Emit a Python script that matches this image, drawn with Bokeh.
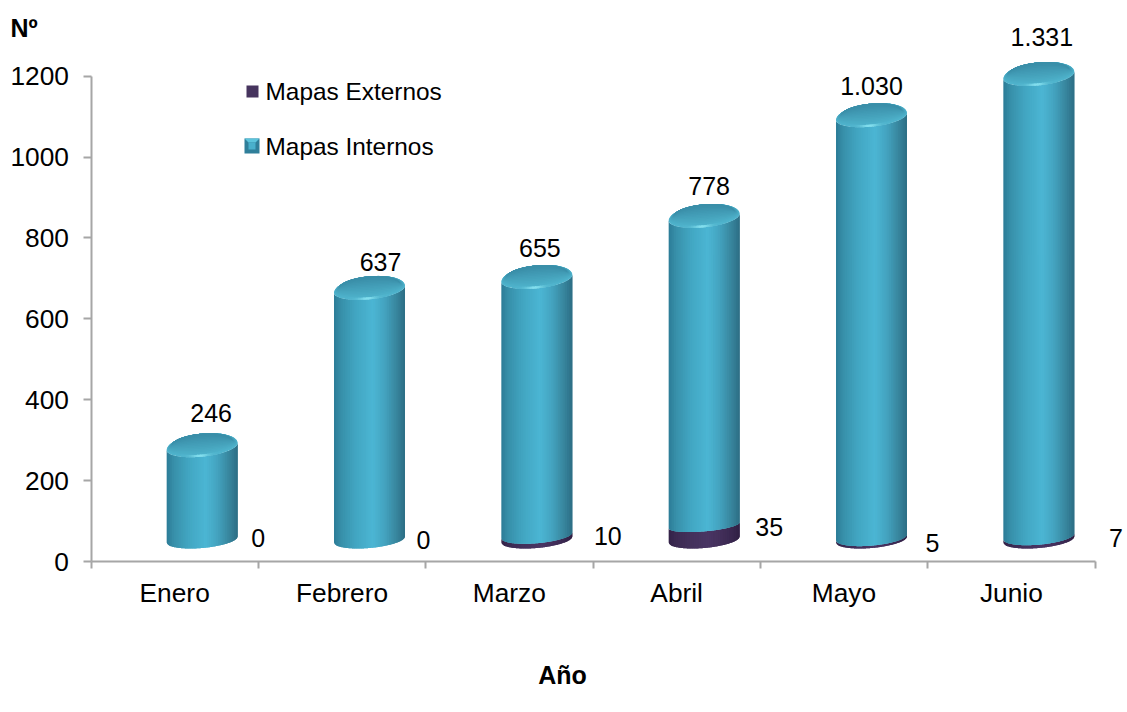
import numpy as np
from bokeh.embed import file_html
from bokeh.resources import INLINE
from bokeh.plotting import figure
from bokeh.models import Range1d, FixedTicker, ColumnDataSource
from bokeh.core.properties import value

# ---- data ----
months = ["Enero", "Febrero", "Marzo", "Abril", "Mayo", "Junio"]
mapas_externos = [0, 0, 10, 35, 5, 7]
# value labels printed on the chart
internos_labels = ["246", "637", "655", "778", "1.030", "1.331"]
externos_labels = ["0", "0", "10", "35", "5", "7"]
# height of the cylinder tops as read against the value axis
internos_top = [284, 673, 700, 851, 1100, 1202]
y_ticks = [0, 200, 400, 600, 800, 1000, 1200]

# ---- layout ----
W, H = 1127, 712
X0, XN = 90.5, 1094.5    # page pixels of the category axis ends
Y0, YT = 561.0, 75.7     # page pixels of value 0 and value 1200
UX = 6.0 / (XN - X0)     # category units per pixel
UY = 1200.0 / (Y0 - YT)  # value units per pixel
BASE = 22 * UY           # perspective floor of the 3-D plot
CYL_DX = 27.5 * UX       # perspective shift of the cylinders
A = 35.5                 # cylinder half-width (px)
TILT_TOP, TILT_BOT = 3.5, 3.0
B_FRONT, B_BACK = 10.0, 13.0
FONT = "Liberation Sans"


def page_x(px):
    return (px - X0) * UX


def page_y(py):
    return (Y0 - py) * UY


def arc(u, b):
    return b * np.sqrt(np.clip(1 - u ** 2, 0, 1))


STOPS = [0, .10, .30, .55, .72, .88, 1]
INT_RGB = ([0x2c, 0x38, 0x42, 0x4c, 0x44, 0x38, 0x2d],
           [0x7c, 0x90, 0xa6, 0xb6, 0xa3, 0x86, 0x6e],
           [0x97, 0xaa, 0xc2, 0xd4, 0xbf, 0x9e, 0x85])
EXT_RGB = ([0x33, 0x3c, 0x44, 0x4a, 0x44, 0x3a, 0x30],
           [0x22, 0x2a, 0x31, 0x36, 0x30, 0x28, 0x20],
           [0x48, 0x52, 0x5c, 0x64, 0x5c, 0x50, 0x44])


def shade(t, rgb):
    return "#%02x%02x%02x" % tuple(int(np.interp(t, STOPS, c)) for c in rgb)


def mix(a, b, w):
    return "#%02x%02x%02x" % tuple(int(x + (y - x) * w) for x, y in zip(a, b))


def strip_u(k, n):
    # each strip runs under its right-hand neighbour, so no seams show
    edges = np.linspace(-1, 1, n + 1)
    return np.linspace(edges[k], edges[min(k + 2, n)], 7)


p = figure(width=W, height=H, output_backend="svg", toolbar_location=None,
           x_range=Range1d(page_x(0), page_x(W)), y_range=Range1d(page_y(H), page_y(0)),
           min_border=0, min_border_left=0, min_border_right=0,
           min_border_top=0, min_border_bottom=0)
p.grid.visible = False
p.outline_line_color = None

ex, ey, ec = [], [], []
sx, sy, sc = [], [], []
cap_x, cap_y, cap_c = [], [], []
rim_x, rim_y, rim_c = [], [], []
N = 40
for i, (ext, top) in enumerate(zip(mapas_externos, internos_top)):
    cx = i + .5 + CYL_DX
    mid = BASE + ext
    b_mid = 8.5 - 0.07 * ext
    for k in range(N):
        u = strip_u(k, N)
        x = cx + A * u * UX
        t = (k + .5) / N
        if ext > 0:
            lo = BASE - (-TILT_BOT * u + arc(u, 8.5)) * UY
            hi = mid - (-TILT_BOT * u + arc(u, b_mid)) * UY
            ex.append(list(x) + list(x[::-1]))
            ey.append(list(lo) + list(hi[::-1]))
            ec.append(shade(t, EXT_RGB))
        lo = mid - (-TILT_BOT * u + arc(u, b_mid)) * UY
        hi = top - (-TILT_TOP * u + arc(u, B_FRONT)) * UY
        sx.append(list(x) + list(x[::-1]))
        sy.append(list(lo) + list(hi[::-1]))
        sc.append(shade(t, INT_RGB))
    # top cap: nested ellipses sharing the back edge, light in front to dark behind
    th = np.linspace(0, 2 * np.pi, 120)
    cu, cv = np.cos(th), np.sin(th)
    layers = 14
    for j in range(layers):
        w = j / (layers - 1)
        a = A * (1 - 0.16 * w)
        up = B_BACK
        down = B_FRONT - (B_FRONT + B_BACK * 0.55) * w
        # the lower half narrows towards the back edge as w grows
        bv = np.where(cv > 0, up * (1 - 0.30 * w), down)
        shift = up * 0.30 * w
        cap_x.append(list(cx + a * cu * UX))
        cap_y.append(list(top + (TILT_TOP * cu * (1 - .4 * w) + bv * cv + shift) * UY))
        cap_c.append(mix((0x50, 0xb4, 0xcd), (0x3a, 0x8e, 0xa8), w))
    # bright line along the front rim
    for k in range(24):
        e0 = -0.6 + k * 1.1 / 24
        e1 = e0 + 1.1 / 24 * 1.5
        u = np.linspace(e0, e1, 4)
        front = top - (-TILT_TOP * u + arc(u, B_FRONT)) * UY
        back = front + 2.2 * UY
        x = cx + A * u * UX
        rim_x.append(list(x) + list(x[::-1]))
        rim_y.append(list(front) + list(back[::-1]))
        w = np.exp(-((0.5 * (e0 + e1) + 0.05) / 0.24) ** 2)
        rim_c.append(mix((0x50, 0xb4, 0xcd), (0x84, 0xe0, 0xef), w))

p.patches(ex, ey, fill_color=ec, line_color=None)
p.patches(sx, sy, fill_color=sc, line_color=None)
p.patches(cap_x, cap_y, fill_color=cap_c, line_color=None)
p.patches(rim_x, rim_y, fill_color=rim_c, line_color=None)

# ---- axes (fixed inside the full-page frame) ----
GREY = "#a6a6a6"
xa = p.xaxis[0]
xa.fixed_location = 0
xa.bounds = (0, 6)
xa.ticker = FixedTicker(ticks=[i + .5 for i in range(6)], minor_ticks=list(range(7)))
xa.major_label_overrides = {i + .5: m for i, m in enumerate(months)}
xa.major_tick_in = 0
xa.major_tick_out = 0
xa.minor_tick_in = 0
xa.minor_tick_out = 7
xa.minor_tick_line_color = GREY
xa.minor_tick_line_width = 2
xa.axis_line_color = GREY
xa.axis_line_width = 2
xa.major_label_standoff = 9
xa.major_label_text_font = FONT
xa.major_label_text_font_size = "26.3px"
xa.major_label_text_color = "#000000"

ya = p.yaxis[0]
ya.fixed_location = 0
ya.bounds = (0, 1200)
ya.ticker = FixedTicker(ticks=y_ticks)
ya.major_tick_in = 0
ya.major_tick_out = 8
ya.minor_tick_line_color = None
ya.major_tick_line_color = GREY
ya.major_tick_line_width = 2
ya.axis_line_color = GREY
ya.axis_line_width = 2
ya.major_label_standoff = 14
ya.major_label_text_font = FONT
ya.major_label_text_font_size = "26.3px"
ya.major_label_text_color = "#000000"

# ---- value labels ----
int_dx = [9, 11, 3, 5, 0, 3]
int_dy = [-34, -27, -30, -31, -31, -38]
ext_dx = [56, 54, 71, 65, 61, 77]
ext_dy = [-2, 0, 1, 2, 6, 1]
centers = [i + .5 + CYL_DX for i in range(6)]
p.text(x="x", y="y", text="t", x_offset="dx", y_offset="dy",
       text_font=value(FONT), text_font_size="25px", text_color="#000000",
       text_align="center", text_baseline="middle",
       source=ColumnDataSource(dict(x=centers, y=internos_top, t=internos_labels,
                                    dx=int_dx, dy=int_dy)))
p.text(x="x", y="y", text="t", x_offset="dx", y_offset="dy",
       text_font=value(FONT), text_font_size="25px", text_color="#000000",
       text_align="center", text_baseline="middle",
       source=ColumnDataSource(dict(x=centers,
                                    y=[BASE + e for e in mapas_externos],
                                    t=externos_labels, dx=ext_dx, dy=ext_dy)))

# ---- axis titles ----
p.text(x=[page_x(10)], y=[page_y(27)], text=["Nº"], text_font=value(FONT),
       text_font_size="25px", text_font_style="bold", text_color="#000000",
       text_baseline="middle")
p.text(x=[page_x(562)], y=[page_y(674)], text=["Año"], text_font=value(FONT),
       text_font_size="25px", text_font_style="bold", text_color="#000000",
       text_align="center", text_baseline="middle")

# ---- legend drawn by hand ----
p.quad(left=[page_x(246)], right=[page_x(258)], top=[page_y(85)], bottom=[page_y(97)],
       fill_color="#46345e", line_color=None)
p.quad(left=[page_x(244)], right=[page_x(259)], top=[page_y(138)], bottom=[page_y(153)],
       fill_color="#2f7f9a", line_color=None)
p.patches([[page_x(244), page_x(259), page_x(255), page_x(248)]],
          [[page_y(138), page_y(138), page_y(142), page_y(142)]],
          fill_color="#5cc4dc", line_color=None)
p.quad(left=[page_x(248)], right=[page_x(255)], top=[page_y(142)], bottom=[page_y(149)],
       fill_color="#49b0cc", line_color=None)
p.text(x=[page_x(265)] * 2, y=[page_y(91), page_y(146)],
       text=["Mapas Externos", "Mapas Internos"], text_font=value(FONT),
       text_font_size="24.4px", text_color="#000000", text_baseline="middle")

open("out.html", "w").write(file_html(p, INLINE))
